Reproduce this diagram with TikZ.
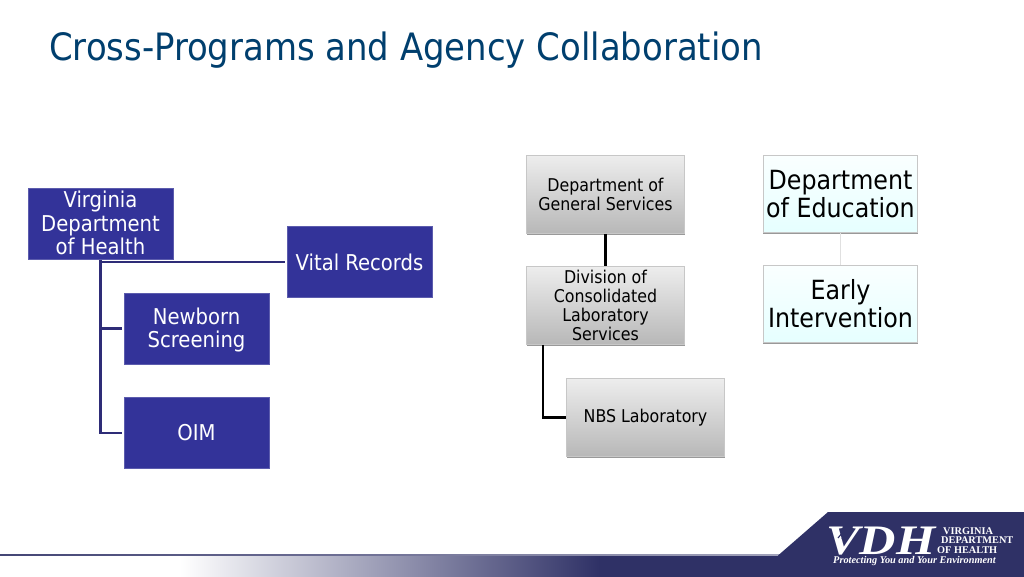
\documentclass[tikz,border=0pt]{standalone}
\usepackage{fontspec}
\setmainfont{DejaVu Sans Condensed}
\newfontfamily\logofont{Liberation Serif}
\usetikzlibrary{calc,shadows}
\definecolor{titleblue}{HTML}{003F6E}
\definecolor{boxblue}{HTML}{333399}
\definecolor{navy}{HTML}{2F3166}
\definecolor{linknavy}{HTML}{2E2C77}
\tikzset{
  softdrop/.style={drop shadow={shadow xshift=0pt,shadow yshift=-1.8pt,fill=black,opacity=0.4}},
  bluebox/.style={draw=boxblue!80!white,line width=0.5pt,fill=boxblue,text=white,align=center,font=\fontsize{21.8}{23.5}\selectfont,minimum width=145pt,minimum height=71pt,inner sep=0pt},
  graybox/.style={draw=black!22,line width=0.8pt,top color=black!7,bottom color=black!28,text=black,align=center,font=\fontsize{17.6}{19}\selectfont,minimum width=158pt,minimum height=78pt,inner sep=0pt,softdrop},
  icebox/.style={draw=black!22,line width=0.8pt,top color=cyan!2,bottom color=cyan!10,text=black,align=center,font=\fontsize{26.4}{28}\selectfont,minimum width=154.5pt,minimum height=77pt,inner sep=0pt,softdrop},
  tree/.style={draw=linknavy,line width=2.2pt},
  blacklink/.style={draw=black,line width=2.2pt},
  palelink/.style={draw=black!12,line width=1.8pt},
  logotext/.style={text=white,inner sep=0pt,anchor=west},
  logosmall/.style={logotext,font=\logofont\bfseries\fontsize{10.3}{10.3}\selectfont},
  logoslit/.style={draw=navy,line width=1.1pt},
}
\begin{document}
\begin{tikzpicture}[x=1pt,y=-1pt]
\useasboundingbox (0,0) rectangle (1024,576);
\fill[white] (0,0) rectangle (1024,576);
% footer band
\shade[left color=white,right color=navy,shading angle=90] (180,555.5) rectangle (600,578);
\fill[navy] (599,555.5) rectangle (790,578);
\shade[left color=navy!90!white,right color=navy!45!white] (0,554) rectangle (780,555.7);
\fill[navy] (778,555.5) -- (828,512) -- (1026,512) -- (1026,578) -- (778,578) -- cycle;
% logo
\node[logotext,xscale=1.2,font=\logofont\bfseries\itshape\fontsize{42}{42}\selectfont] (vdh) at (826,541) {VDH};
\coordinate (slita) at (838,538);
\coordinate (slitb) at (847,527);
\coordinate (slitc) at (842,539);
\coordinate (slitd) at (851,527);
\draw[logoslit] (slita) -- (slitb);
\draw[logoslit] (slitc) -- (slitd);
\node[logosmall] (l1) at (943,531) {VIRGINIA};
\node[logosmall] (l2) at (941,540.5) {DEPARTMENT};
\node[logosmall] (l3) at (937,550) {OF HEALTH};
\node[logotext,font=\logofont\bfseries\itshape\fontsize{10.3}{10.3}\selectfont] (l4) at (833,561) {Protecting You and Your Environment};
% title
\node[anchor=west,inner sep=0pt,text=titleblue,font=\fontsize{37.7}{40}\selectfont] (title) at (49,50.5) {Cross-Programs and Agency Collaboration};
% left tree
\node[bluebox] (vdhbox) at (100.5,224) {Virginia\\Department\\of Health\rule[-2pt]{0pt}{0pt}};
\node[bluebox] (vital) at (359.5,262) {Vital Records};
\node[bluebox] (newborn) at (196.5,328.5) {\rule{0pt}{19.6pt}Newborn\\Screening};
\node[bluebox] (oim) at (196.5,433) {OIM};
\draw[tree,shorten >=2pt] (vdhbox.south) |- (vital.west);
\draw[tree,shorten >=2pt] (vdhbox.south) |- (newborn.west);
\draw[tree,shorten >=2pt] (vdhbox.south) |- (oim.west);
% middle
\node[graybox] (dgs) at (605.5,194.5) {Department of\\General Services};
\node[graybox] (dcls) at (605.5,305.5) {Division of\\Consolidated\\Laboratory\\Services};
\node[graybox] (nbs) at (645.5,417.5) {NBS Laboratory};
\coordinate (dclsout) at ($(dcls.south west)+(16.5,0)$);
\draw[blacklink] (dgs.south) -- (dcls.north);
\draw[blacklink] (dclsout) |- (nbs.west);
% right
\node[icebox] (doe) at (840.5,194) {Department\\of Education};
\node[icebox] (ei) at (840.5,304) {Early\\Intervention};
\draw[palelink] (doe.south) -- (ei.north);
\end{tikzpicture}
\end{document}
